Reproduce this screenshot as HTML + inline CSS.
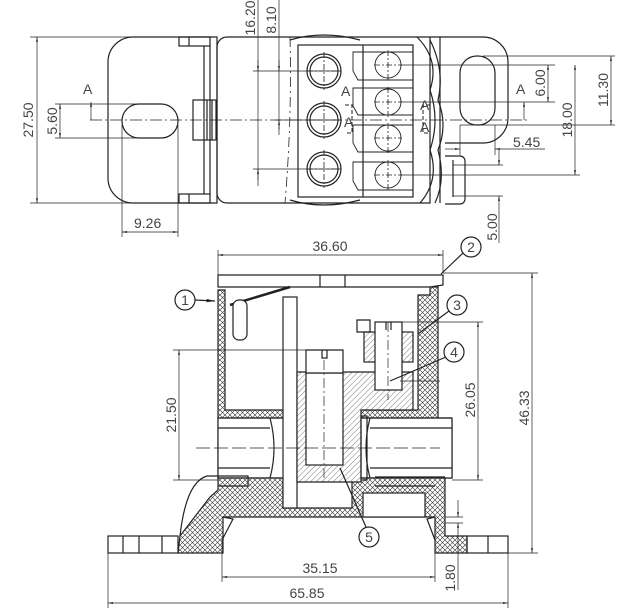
<!DOCTYPE html>
<html><head><meta charset="utf-8"><style>
html,body{margin:0;padding:0;background:#fff;}
svg{display:block;}
text{font-family:"Liberation Sans",sans-serif;fill:#444;font-size:14px;}
</style></head><body>
<svg width="640" height="612" viewBox="0 0 640 612" xmlns="http://www.w3.org/2000/svg">
<defs>
<pattern id="x" width="5" height="5" patternUnits="userSpaceOnUse">
<rect width="5" height="5" fill="#fff"/>
<path d="M0 0L5 5M5 0L0 5" stroke="#333" stroke-width="0.6"/>
</pattern>
<pattern id="d" width="4" height="4" patternUnits="userSpaceOnUse" patternTransform="rotate(45)">
<rect width="4" height="4" fill="#fff"/>
<line x1="0" y1="0" x2="0" y2="4" stroke="#444" stroke-width="0.7"/>
</pattern>
<marker id="a" viewBox="0 0 10 10" refX="10" refY="5" markerWidth="7" markerHeight="7" orient="auto-start-reverse"><path d="M0 3L10 5L0 7z" fill="#222"/></marker>
</defs>
<g fill="none" stroke="#222" stroke-width="1.2">
<!-- ===== TOP VIEW ===== -->
<path d="M133 37H217V203H133A25 25 0 0 1 108 178V62A25 25 0 0 1 133 37Z"/>
<rect x="179" y="37" width="31" height="9"/><line x1="189" y1="37" x2="189" y2="46"/>
<rect x="179" y="194" width="31" height="9"/><line x1="189" y1="194" x2="189" y2="203"/>
<line x1="204" y1="46" x2="204" y2="194"/><line x1="210" y1="46" x2="210" y2="194"/>
<rect x="193" y="100" width="23" height="40"/><line x1="207" y1="100" x2="207" y2="140"/><line x1="212" y1="100" x2="212" y2="140"/>
<rect x="122" y="104" width="56" height="34" rx="17"/>
<path d="M227 37H430V203H227A10 10 0 0 1 217 193V47A10 10 0 0 1 227 37Z"/>
<path d="M290 37Q292 120 285 203" stroke-dasharray="10 4 2 4" stroke-width="0.8"/>
<path d="M290 40Q323 30 360 40M290 200Q323 210 360 200"/>
<rect x="298" y="45" width="115" height="152"/>
<line x1="363" y1="45" x2="363" y2="197"/>
<g>
<circle cx="324" cy="71" r="17"/><circle cx="324" cy="71" r="14"/>
<circle cx="324" cy="120" r="17"/><circle cx="324" cy="120" r="14"/>
<circle cx="324" cy="169" r="17"/><circle cx="324" cy="169" r="14"/>
</g>
<g stroke-width="0.9">
<path d="M353 52H413V80H358L353 71V61Z"/><path d="M353 88H413V115H358L353 106V97Z"/>
<path d="M353 125H413V152H358L353 143V134Z"/><path d="M353 162H413V190H358L353 181V171Z"/>
<circle cx="388" cy="65" r="13"/><circle cx="388" cy="102" r="13"/><circle cx="388" cy="138" r="13"/><circle cx="388" cy="175" r="13"/>
</g>
<g stroke-width="0.8" stroke-dasharray="6 2 2 2">
<path d="M324 52V90M307 71H341M324 101V139M307 120H341M324 150V188M307 169H341"/>
<path d="M388 50V80M374 65H402M388 87V117M374 102H402M388 123V153M374 138H402M388 160V190M374 175H402"/>
</g>
<path d="M417 37Q440 60 430 90Q440 120 430 150Q440 180 420 203"/>
<path d="M430 40Q445 70 438 100Q448 125 438 150Q446 180 435 203"/>
<line x1="440" y1="37" x2="440" y2="203"/>
<path d="M430 37H483A25 25 0 0 1 508 62V118A25 25 0 0 1 483 143H445"/>
<rect x="460" y="56" width="35" height="69" rx="17"/>
<path d="M445 156H460A5 5 0 0 1 465 161V199A5 5 0 0 1 460 204H445"/>
<line x1="453" y1="160" x2="453" y2="197"/>
<line x1="90" y1="120" x2="527" y2="120" stroke-width="0.7" stroke-dasharray="12 3 2 3"/>
<path d="M345 105H352V133H345M430 105H423V133H430" stroke-width="1" stroke-dasharray="4 2"/>
<!-- top dims -->
<g stroke-width="0.7">
<line x1="30" y1="37" x2="133" y2="37"/><line x1="30" y1="203" x2="133" y2="203"/>
<line x1="37" y1="37" x2="37" y2="203" marker-start="url(#a)" marker-end="url(#a)"/>
<line x1="55" y1="104" x2="140" y2="104"/><line x1="55" y1="138" x2="140" y2="138"/>
<line x1="60" y1="104" x2="60" y2="138" marker-start="url(#a)" marker-end="url(#a)"/>
<line x1="122" y1="125" x2="122" y2="237"/><line x1="178" y1="125" x2="178" y2="237"/>
<line x1="122" y1="232" x2="178" y2="232" marker-start="url(#a)" marker-end="url(#a)"/>
<line x1="91" y1="120" x2="91" y2="102" marker-end="url(#a)"/>
<line x1="524" y1="120" x2="524" y2="102" marker-end="url(#a)"/>
<line x1="253" y1="71" x2="340" y2="71"/><line x1="253" y1="169" x2="340" y2="169"/>
<line x1="258" y1="0" x2="258" y2="186"/><line x1="258" y1="60" x2="258" y2="71" marker-end="url(#a)"/><line x1="258" y1="180" x2="258" y2="169" marker-end="url(#a)"/>
<line x1="275" y1="120" x2="340" y2="120"/>
<line x1="279" y1="0" x2="279" y2="135"/><line x1="279" y1="60" x2="279" y2="71" marker-end="url(#a)"/><line x1="279" y1="130" x2="279" y2="120" marker-end="url(#a)"/>
<line x1="400" y1="65" x2="555" y2="65"/><line x1="400" y1="102" x2="555" y2="102"/>
<line x1="548" y1="65" x2="548" y2="102" marker-start="url(#a)" marker-end="url(#a)"/>
<line x1="400" y1="175" x2="580" y2="175"/>
<line x1="575" y1="65" x2="575" y2="175" marker-start="url(#a)" marker-end="url(#a)"/>
<line x1="483" y1="56" x2="615" y2="56"/><line x1="460" y1="125" x2="615" y2="125"/>
<line x1="611" y1="56" x2="611" y2="125" marker-start="url(#a)" marker-end="url(#a)"/>
<line x1="460" y1="125" x2="460" y2="155"/><line x1="495" y1="125" x2="495" y2="155"/>
<line x1="445" y1="149" x2="460" y2="149" marker-end="url(#a)"/><line x1="545" y1="149" x2="495" y2="149" marker-end="url(#a)"/>
<line x1="453" y1="165" x2="503" y2="165"/><line x1="453" y1="196" x2="503" y2="196"/>
<line x1="499" y1="150" x2="499" y2="165" marker-end="url(#a)"/><line x1="499" y1="243" x2="499" y2="196" marker-end="url(#a)"/>
</g>
<!-- ===== SECTION VIEW ===== -->
<path d="M218 275H443V285L430 287H218Z"/>
<line x1="320" y1="275" x2="320" y2="287"/><line x1="345" y1="275" x2="345" y2="287"/>
<path d="M230 305L290 287" stroke-width="2.5"/>
<path d="M218 290H225V410H418V295H430V287H438V420H452V478H218Z" fill="url(#x)"/>
<rect x="218" y="418" width="234" height="60" fill="#fff"/>
<path d="M218 418H452M218 428H270M370 428H452M218 468H270M370 468H452"/>
<path d="M270 418Q278 448 270 478M370 418Q362 448 370 478"/>
<path d="M218 478H283V508H352V478H445V536H467V553H435V517H223V553H178L180 536L210 497L218 490Z" fill="url(#x)"/>
<rect x="363" y="493" width="62" height="24" fill="#fff"/>
<path d="M223 517L233 519L222 540M435 517L427 519L435 540"/>
<path d="M180 536Q186 482 207 476H248V486H218"/>
<path d="M375 477H445M375 486H435"/>
<rect x="108" y="536" width="70" height="17"/><path d="M123 536V553M139 536V553M162 536V553"/>
<rect x="467" y="536" width="41" height="17"/><path d="M488 536V553"/>
<rect x="283" y="297" width="14" height="211" fill="#fff"/>
<rect x="233" y="300" width="14" height="40" rx="6" fill="#fff"/>
<path d="M297 372H413V410H361V482H297Z" fill="url(#d)"/>
<rect x="306" y="373" width="37" height="92" fill="#fff"/>
<path d="M306 350H343V373H306Z" fill="#fff"/><path d="M322 350V358H327V350"/>
<rect x="364" y="332" width="49" height="30" fill="url(#d)"/>
<rect x="375" y="322" width="27" height="68" fill="#fff"/>
<path d="M386 322V330M391 322V330M357 320H370V332H357Z"/>
<g stroke-width="0.7" stroke-dasharray="10 3 2 3"><path d="M324 360V482M388 322V400"/></g>
<rect x="361" y="416" width="6" height="64"/>
<circle cx="185" cy="300" r="10"/><path d="M195 300L215 301" marker-end="url(#a)"/>
<circle cx="471" cy="247" r="10"/><path d="M463 253L441 274"/>
<circle cx="457" cy="305" r="10"/><path d="M449 311L418 334"/>
<circle cx="454" cy="352" r="10"/><path d="M446 357L390 381"/>
<circle cx="369" cy="537" r="10"/><path d="M366 527L340 468"/>
<g stroke-width="0.7">
<line x1="218" y1="250" x2="218" y2="275"/><line x1="443" y1="250" x2="443" y2="272"/>
<line x1="218" y1="255" x2="443" y2="255" marker-start="url(#a)" marker-end="url(#a)"/>
<line x1="443" y1="273" x2="538" y2="273"/><line x1="508" y1="553" x2="538" y2="553"/>
<line x1="532" y1="273" x2="532" y2="553" marker-start="url(#a)" marker-end="url(#a)"/>
<line x1="400" y1="322" x2="483" y2="322"/><line x1="452" y1="480" x2="483" y2="480"/>
<line x1="478" y1="322" x2="478" y2="480" marker-start="url(#a)" marker-end="url(#a)"/>
<line x1="173" y1="350" x2="306" y2="350"/><line x1="173" y1="480" x2="218" y2="480"/>
<line x1="179" y1="350" x2="179" y2="480" marker-start="url(#a)" marker-end="url(#a)"/>
<line x1="196" y1="448" x2="440" y2="448" stroke-dasharray="14 4"/>
<line x1="400" y1="381" x2="440" y2="381"/>
<line x1="222" y1="540" x2="222" y2="582"/><line x1="435" y1="540" x2="435" y2="582"/>
<line x1="222" y1="577" x2="435" y2="577" marker-start="url(#a)" marker-end="url(#a)"/>
<line x1="108" y1="553" x2="108" y2="608"/><line x1="508" y1="553" x2="508" y2="608"/>
<line x1="108" y1="603" x2="508" y2="603" marker-start="url(#a)" marker-end="url(#a)"/>
<line x1="445" y1="517" x2="463" y2="517"/><line x1="445" y1="523" x2="463" y2="523"/>
<line x1="458" y1="500" x2="458" y2="517" marker-end="url(#a)"/><line x1="458" y1="590" x2="458" y2="523" marker-end="url(#a)"/>
</g>
</g>
<text x="83" y="94" font-size="13">A</text>
<text x="516" y="94" font-size="13">A</text>
<text x="341" y="96" font-size="12">A</text><text x="344" y="127" font-size="12">A</text>
<text x="420" y="110" font-size="12">A</text><text x="420" y="132" font-size="12">A</text>
<text x="134" y="228" font-size="13">9.26</text>
<text x="513" y="147" font-size="13">5.45</text>
<text transform="translate(33 120) rotate(-90)" text-anchor="middle">27.50</text>
<text transform="translate(57 121) rotate(-90)" text-anchor="middle">5.60</text>
<text transform="translate(255 18) rotate(-90)" text-anchor="middle">16.20</text>
<text transform="translate(276 20) rotate(-90)" text-anchor="middle">8.10</text>
<text transform="translate(545 83) rotate(-90)" text-anchor="middle">6.00</text>
<text transform="translate(572 120) rotate(-90)" text-anchor="middle">18.00</text>
<text transform="translate(608 90) rotate(-90)" text-anchor="middle">11.30</text>
<text transform="translate(497 227) rotate(-90)" text-anchor="middle">5.00</text>
<text x="330" y="251" text-anchor="middle">36.60</text>
<text transform="translate(529 408) rotate(-90)" text-anchor="middle">46.33</text>
<text transform="translate(475 400) rotate(-90)" text-anchor="middle">26.05</text>
<text transform="translate(176 415) rotate(-90)" text-anchor="middle">21.50</text>
<text x="320" y="573" text-anchor="middle">35.15</text>
<text x="307" y="598" text-anchor="middle">65.85</text>
<text transform="translate(455 578) rotate(-90)" text-anchor="middle">1.80</text>
<text x="185" y="305" text-anchor="middle" font-size="13">1</text>
<text x="471" y="252" text-anchor="middle" font-size="13">2</text>
<text x="457" y="310" text-anchor="middle" font-size="13">3</text>
<text x="454" y="357" text-anchor="middle" font-size="13">4</text>
<text x="369" y="542" text-anchor="middle" font-size="13">5</text>
</svg>
</body></html>
